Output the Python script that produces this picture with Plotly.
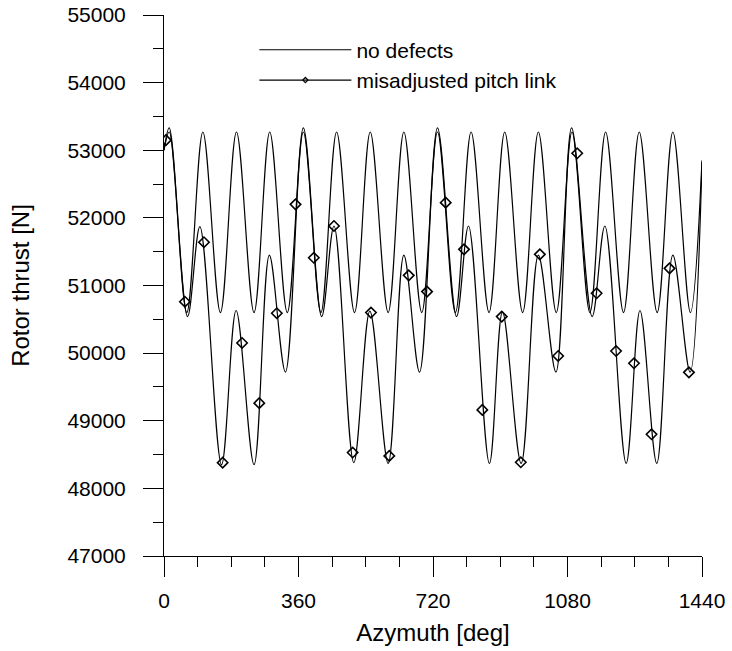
import plotly.graph_objects as go

# ---- data ----
# "no defects" curve: azimuth of successive extrema [deg] and thrust [N]
azimuth_nd = [0, 14, 61, 104, 151, 194, 241, 283, 330, 373, 420, 462, 510, 552, 600,
              642, 690, 732, 780, 822, 870, 912, 960, 1002, 1050, 1092, 1140, 1182,
              1230, 1272, 1320, 1362, 1409, 1440]
thrust_nd = [53000, 53270, 50600, 53270, 50600, 53270, 50600, 53270, 50600, 53270,
             50600, 53270, 50600, 53270, 50600, 53270, 50600, 53270, 50600, 53270,
             50600, 53270, 50600, 53270, 50600, 53270, 50600, 53270, 50600, 53270,
             50600, 53270, 50600, 52850]

# "misadjusted pitch link" curve: azimuth of successive extrema [deg] and thrust [N]
azimuth_mp = [0, 14, 63, 96, 154, 193, 241, 282, 325, 373, 422, 455, 508, 551, 600,
              642, 684, 732, 783, 815, 871, 906, 956, 1002, 1049, 1091, 1146, 1180,
              1237, 1274, 1319, 1362, 1408, 1440]
thrust_mp = [53000, 53330, 50540, 51870, 48350, 50630, 48350, 51450, 49720, 53330,
             50540, 51880, 48380, 50620, 48370, 51450, 49720, 53330, 50540, 51880,
             48370, 50610, 48370, 51450, 49720, 53330, 50540, 51880, 48370, 50630,
             48370, 51450, 49720, 52830]

# diamond markers on the "misadjusted pitch link" curve
marker_az = [5, 56, 107, 157, 209, 255, 302, 352, 401, 455, 505, 554, 603, 655, 704,
             754, 803, 852, 904, 955, 1006, 1055, 1106, 1158, 1210, 1258, 1305, 1353, 1405]
marker_thrust = [53150, 50760, 51640, 48380, 50150, 49260, 50590, 52200, 51410, 51880,
                 48530, 50600, 48480, 51150, 50910, 52225, 51535, 49160, 50540, 48386,
                 51461, 49958, 52955, 50885, 50031, 49850, 48800, 51254, 49716]

x_ticks = [0, 360, 720, 1080, 1440]
y_ticks = [47000, 48000, 49000, 50000, 51000, 52000, 53000, 54000, 55000]

FONT = "Liberation Sans, Arial, sans-serif"

fig = go.Figure()

fig.add_trace(go.Scatter(
    x=azimuth_nd, y=thrust_nd, mode="lines", name="no defects",
    line=dict(color="black", width=1.2, shape="spline", smoothing=1.0),
))
fig.add_trace(go.Scatter(
    x=azimuth_mp, y=thrust_mp, mode="lines", name="misadjusted pitch link",
    showlegend=False, legendgroup="mp",
    line=dict(color="black", width=1.2, shape="spline", smoothing=1.0),
))
fig.add_trace(go.Scatter(
    x=marker_az, y=marker_thrust, mode="markers", name="misadjusted pitch link",
    showlegend=False, legendgroup="mp",
    marker=dict(symbol="diamond-open", size=8, color="black", line=dict(width=1.6, color="black")),
))
# legend entry (line with small diamond)
fig.add_trace(go.Scatter(
    x=[None], y=[None], mode="lines+markers", name="misadjusted pitch link",
    legendgroup="mp",
    line=dict(color="black", width=1.2),
    marker=dict(symbol="diamond-open", size=4, color="black", line=dict(width=1.2, color="black")),
))

fig.update_layout(
    width=732, height=651,
    margin=dict(l=164, r=30, t=15, b=95),
    paper_bgcolor="white", plot_bgcolor="white",
    font=dict(family=FONT, size=21, color="black"),
    showlegend=True,
    legend=dict(
        x=0.168, y=0.973, xanchor="left", yanchor="top",
        bgcolor="rgba(0,0,0,0)", borderwidth=0,
        font=dict(family=FONT, size=21, color="black"),
        itemwidth=92, tracegroupgap=0,
    ),
    xaxis=dict(
        range=[0, 1440], tickmode="array", tickvals=x_ticks,
        ticktext=[str(v) for v in x_ticks],
        ticks="outside", ticklen=20, tickwidth=1, tickcolor="black",
        minor=dict(dtick=90, tick0=0, ticks="outside", ticklen=10, tickwidth=1, tickcolor="black", showgrid=False),
        showline=True, linecolor="black", linewidth=1,
        showgrid=False, zeroline=False, mirror=False, automargin=False,
        ticklabeloverflow="allow",
        tickfont=dict(family=FONT, size=21),
        ticklabelstandoff=6,
        title=dict(text="Azymuth [deg]", font=dict(family=FONT, size=24), standoff=12),
    ),
    yaxis=dict(
        range=[47000, 55000], tickmode="array", tickvals=y_ticks,
        ticktext=[str(v) for v in y_ticks],
        ticks="outside", ticklen=20, tickwidth=1, tickcolor="black",
        minor=dict(dtick=500, tick0=47000, ticks="outside", ticklen=10, tickwidth=1, tickcolor="black", showgrid=False),
        showline=True, linecolor="black", linewidth=1,
        showgrid=False, zeroline=False, mirror=False, automargin=False,
        ticklabeloverflow="allow",
        tickfont=dict(family=FONT, size=21),
        ticklabelstandoff=13,
        title=dict(text="Rotor thrust [N]", font=dict(family=FONT, size=24), standoff=30),
    ),
)

# remove the browser's default 8px page margin so the figure fills the window
fig.write_html("out.html", config={"displayModeBar": False},
               post_script="document.body.style.margin='0';")
